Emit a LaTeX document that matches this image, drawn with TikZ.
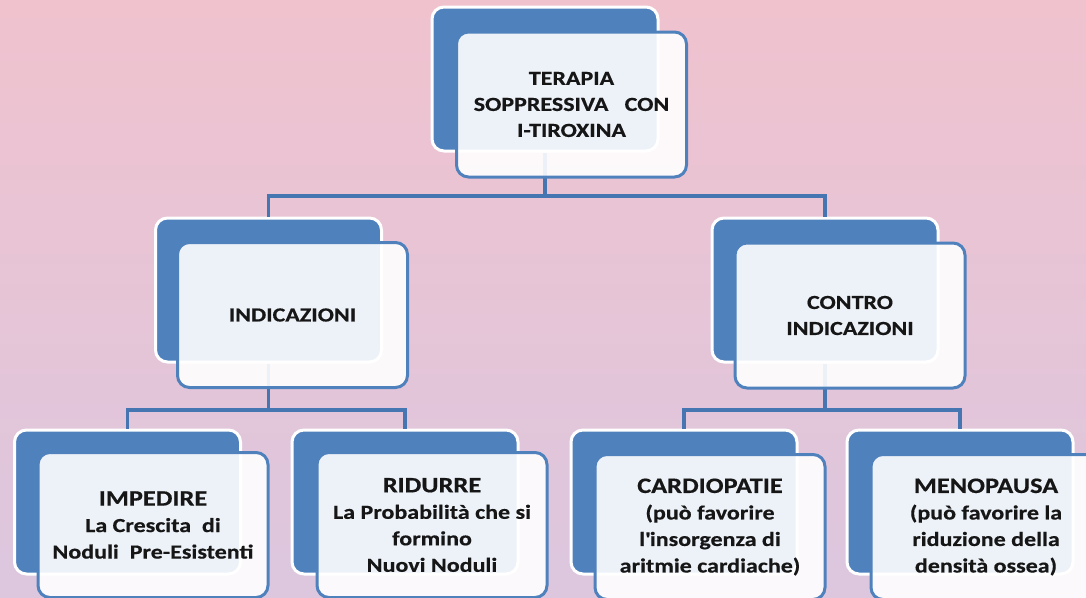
\documentclass[tikz,border=0pt]{standalone}
\usepackage{fontspec}
\setmainfont[FakeStretch=1.2, BoldFeatures={FakeBold=0.5}]{Carlito}
\definecolor{bluebox}{HTML}{4F81BD}
\definecolor{bluelink}{HTML}{4676B2}
\definecolor{bgtop}{HTML}{F0C2CE}
\definecolor{bgbot}{HTML}{DCC7DF}
\definecolor{txt}{HTML}{161616}
\begin{document}
\begin{tikzpicture}[x=1pt,y=-1pt,
  backbox/.style={draw=white, line width=3pt, fill=bluebox, rounded corners=12pt,
    minimum width=226pt, minimum height=144pt, inner sep=0pt},
  frontbox/.style={draw=bluebox, line width=3pt, fill=white, fill opacity=0.9,
    text opacity=1, rounded corners=12pt, minimum width=230pt, minimum height=145pt,
    inner sep=0pt, align=center, text=txt, font=\bfseries\fontsize{20}{26}\selectfont},
  leafbox/.style={frontbox, font=\bfseries\fontsize{20}{26.5}\selectfont},
  link/.style={draw=bluelink, line width=3.2pt}
]
\shade[top color=bgtop, bottom color=bgbot] (0,0) rectangle (1086,597);
\useasboundingbox (0,0) rectangle (1086,597);

% back boxes
\node[backbox] (tb) at (545,79) {};
\node[backbox] (ib) at (268.5,290) {};
\node[backbox] (cb) at (825,290) {};
\node[backbox] (pb) at (127.5,502) {};
\node[backbox] (rb) at (405,502) {};
\node[backbox] (kb) at (684,502) {};
\node[backbox] (mb) at (960,502) {};

% connectors
\coordinate (j1) at (545,196);
\coordinate (j2) at (268.5,410);
\coordinate (j3) at (825,410);
\draw[link] (tb.south) -- (j1) -| (ib.north);
\draw[link] (j1) -| (cb.north);
\draw[link] (ib.south) -- (j2) -| (pb.north);
\draw[link] (j2) -| (rb.north);
\draw[link] (cb.south) -- (j3) -| (kb.north);
\draw[link] (j3) -| (mb.north);

% front boxes
\node[frontbox] (t) at (571.5,104.5) {TERAPIA\\SOPPRESSIVA\ \ \ CON\\I-TIROXINA};
\node[frontbox] (i) at (292.5,315) {INDICAZIONI};
\node[frontbox] (c) at (850,315.5) {CONTRO\\INDICAZIONI};
\node[leafbox] (p) at (153,525)
  {{\fontsize{22}{26.5}\selectfont IMPEDIRE}\\La Crescita\ \ di\\Noduli\ \ Pre-Esistenti};
\node[leafbox] (r) at (432,525)
  {{\fontsize{22}{26.5}\selectfont RIDURRE}\\La Probabilità che si\\formino\\Nuovi Noduli};
\node[leafbox] (k) at (710,527)
  {{\fontsize{22}{26.5}\selectfont CARDIOPATIE}\\(può favorire\\l\textquotesingle insorgenza di\\aritmie cardiache)};
\node[leafbox] (m) at (986,527)
  {{\fontsize{22}{26.5}\selectfont MENOPAUSA}\\(può favorire la\\riduzione della\\densità ossea)};
\end{tikzpicture}
\end{document}
